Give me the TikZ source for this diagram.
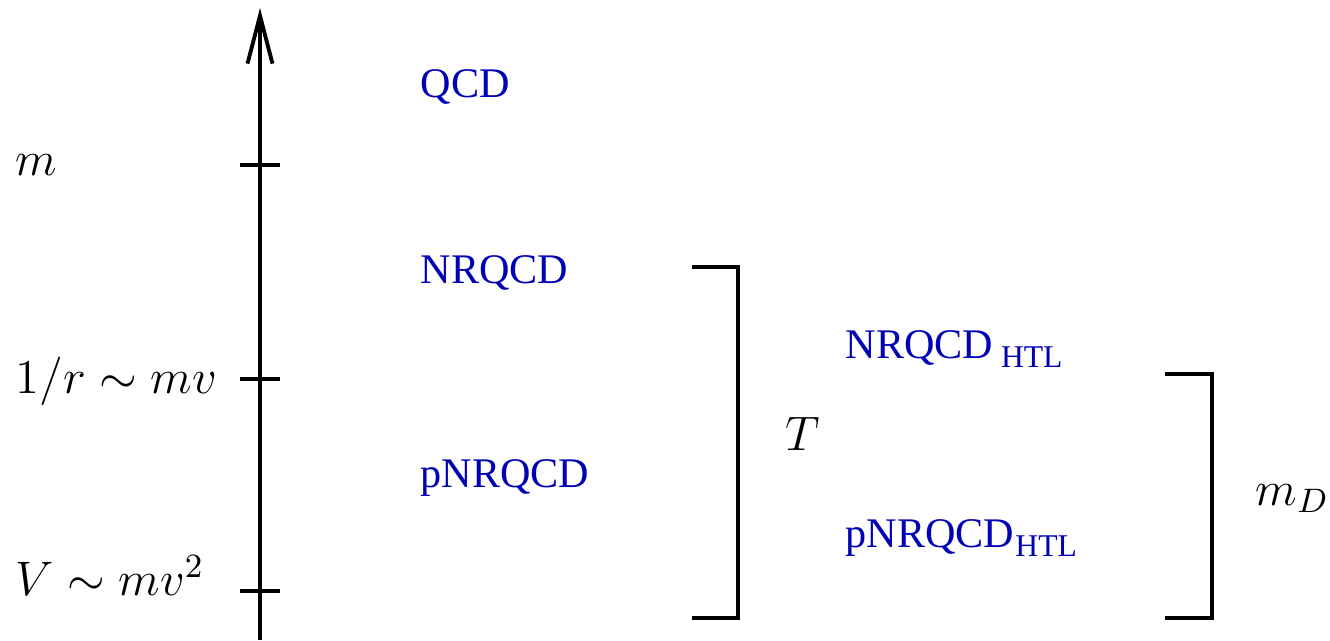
\documentclass[tikz,border=0pt]{standalone}
\usepackage{fix-cm}
\usepackage{fontspec}
\newfontfamily\timesfont{Liberation Serif}
\usetikzlibrary{arrows.meta,positioning}
\definecolor{eftblue}{RGB}{0,0,180}
\tikzset{
	eft/.style={anchor=base west, inner sep=0pt, text=eftblue, font=\timesfont\fontsize{12}{14}\selectfont},
	scalelabel/.style={anchor=base west, inner sep=0pt, font=\fontsize{13.8}{16}\selectfont},
	thick line/.style={line width=1.1pt}
}
\newcommand{\htl}{\raisebox{-0.22em}{\fontsize{9}{10}\selectfont HTL}}
\begin{document}
\begin{tikzpicture}
		\useasboundingbox (0,0) rectangle (13.3,6.4);
		% energy axis
		\coordinate (axisbottom) at (2.6,0);
		\coordinate (axistop) at (2.6,6.32);
		\draw[thick line, -{Straight Barb[length=4.8mm, width=2.5mm]}] (axisbottom) -- (axistop);
		\draw[thick line] (2.4,4.75) -- (2.8,4.75);
		\draw[thick line] (2.4,2.61) -- (2.8,2.61);
		\draw[thick line] (2.4,0.49) -- (2.8,0.49);
		
		\node (mass) [scalelabel] at (0.15,4.65) {$m$};
		\node (radius) [scalelabel] at (0.15,2.47) {$1/r\sim mv$};
		\node (potential) [scalelabel] at (0.15,0.45) {$V\sim mv^2$};
		
		% effective theories
		\node (qcd) [eft] at (4.2,5.43) {QCD};
		\node (nrqcd) [eft] at (4.2,3.57) {NRQCD};
		\node (pnrqcd) [eft] at (4.2,1.53) {pNRQCD};
		\node (nrqcdhtl) [eft] at (8.45,2.82) {NRQCD\hspace{2.2pt}\htl};
		\node (pnrqcdhtl) [eft] at (8.45,0.93) {pNRQCD\hspace{0.3pt}\htl};
		
		% thermal scales
		\draw[thick line] (6.92,3.73) -- (7.38,3.73) -- (7.38,0.22) -- (6.92,0.22);
		\node (temp) [scalelabel] at (7.85,1.90) {$T$};
		\draw[thick line] (11.65,2.66) -- (12.12,2.66) -- (12.12,0.22) -- (11.65,0.22);
		\node (debye) [scalelabel] at (12.55,1.35) {$m_D$};
	\end{tikzpicture}
\end{document}
